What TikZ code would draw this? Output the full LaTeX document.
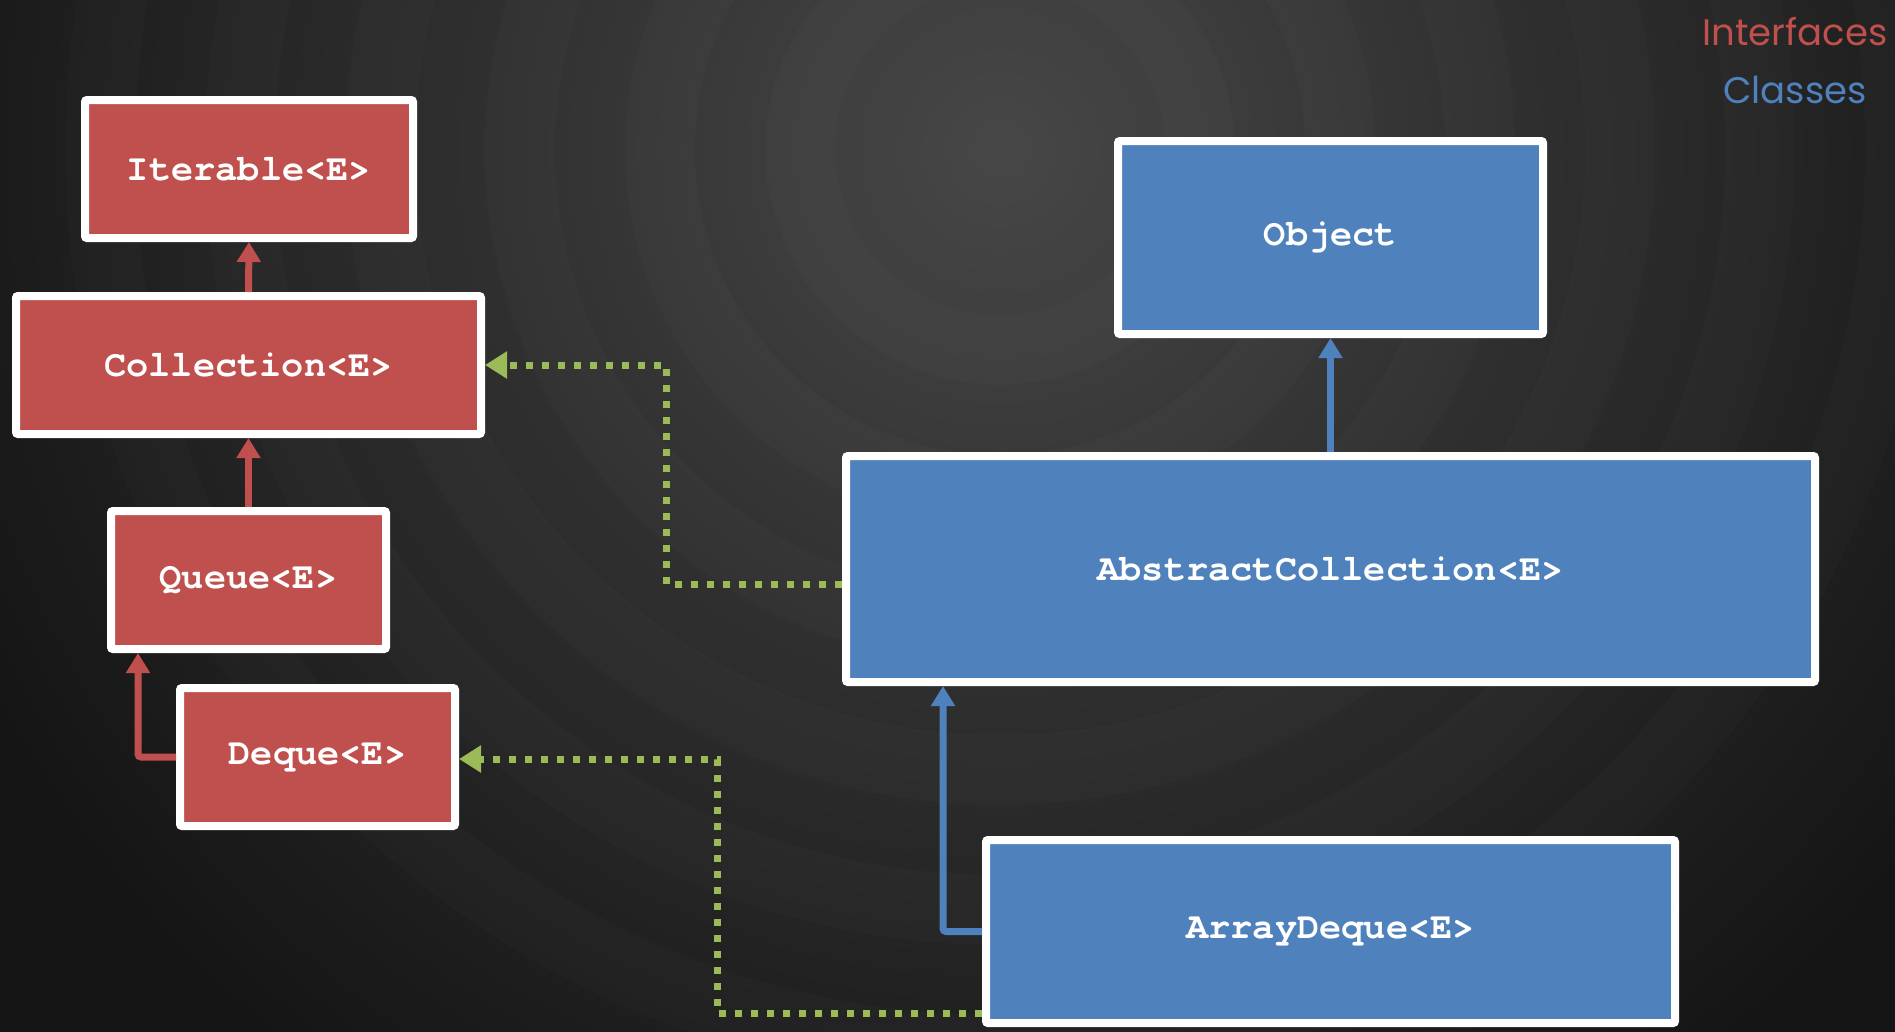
\documentclass[tikz,border=0pt]{standalone}
\usepackage{fontspec}
\setmainfont{Liberation Sans}
\newfontfamily\boxfont{TeX Gyre Cursor}
\newfontfamily\legendfont{Poppins}
\usetikzlibrary{arrows.meta}
\definecolor{ifred}{HTML}{C0504D}
\definecolor{clblue}{HTML}{4F81BD}
\definecolor{relgreen}{HTML}{9BBB59}
\definecolor{bgin}{HTML}{474747}
\definecolor{bgmid}{HTML}{2E2E2E}
\definecolor{bgout}{HTML}{151515}
\pgfdeclareradialshading{bgglow}{\pgfpoint{0bp}{0bp}}{color(0bp)=(bgin); color(12bp)=(bgmid); color(25bp)=(bgout); color(50bp)=(bgout)}
\tikzset{
  umlbox/.style={draw=white, line width=8pt, rounded corners=2pt, outer sep=4pt,
    text=white, font=\boxfont\bfseries\fontsize{37}{44}\selectfont, inner sep=0pt},
  ifbox/.style={umlbox, fill=ifred},
  clbox/.style={umlbox, fill=clblue},
  redarrow/.style={draw=ifred, line width=7pt, rounded corners=3pt,
    -{Triangle[width=23pt,length=20pt]}},
  bluearrow/.style={draw=clblue, line width=7pt, rounded corners=3pt,
    -{Triangle[width=23pt,length=20pt]}},
  greenarrow/.style={draw=relgreen, line width=7pt, dash pattern=on 7pt off 9pt,
    -{Triangle[width=26pt,length=22pt,fill=relgreen]}},
  legend/.style={font=\legendfont\fontsize{37}{44}\selectfont, inner sep=0pt, anchor=base},
  bgring/.style={draw=white, draw opacity=0.016, line width=70pt}
}
\begin{document}
\begin{tikzpicture}[x=1pt,y=-1pt]
\useasboundingbox (0,0) rectangle (1895,1031);
\fill[bgout] (-10,-10) rectangle (1905,1041);
\begin{scope}
\clip (-10,-10) rectangle (1905,1041);
\shade[shading=bgglow] (1000,150) circle (1150);
\foreach \r in {200,340,480,620,760,900}
  \draw[bgring] (1000,150) circle (\r);
\end{scope}

\node[legend, text=ifred] (lgi) at (1795,45) {Interfaces};
\node[legend, text=clblue] (lgc) at (1795,103) {Classes};

\node[ifbox, minimum width=328pt, minimum height=138pt] (iter) at (249,169) {Iterable<E>};
\node[ifbox, minimum width=465pt, minimum height=138pt] (coll) at (248.5,365) {Collection<E>};
\node[ifbox, minimum width=275pt, minimum height=138pt] (queue) at (248.5,580) {Queue<E>};
\node[ifbox, minimum width=275pt, minimum height=138pt] (deque) at (317.5,757) {Deque<E>};

\node[clbox, minimum width=425pt, minimum height=193pt] (obj) at (1330.5,237.5) {Object};
\node[clbox, minimum width=969pt, minimum height=226pt] (ac) at (1330.5,569) {AbstractCollection<E>};
\node[clbox, minimum width=689pt, minimum height=183pt] (ad) at (1330.5,931.5) {ArrayDeque<E>};

\coordinate (g1) at (666,365);
\coordinate (g2) at (717,759);

\draw[redarrow] (coll.north) -- (iter.south);
\draw[redarrow] (queue.north) -- (coll.south);
\draw[redarrow] (deque.west) -| ([xshift=31pt]queue.south west);

\draw[bluearrow] (ac.north) -- (obj.south);
\draw[bluearrow] (ad.west) -| ([xshift=101pt]ac.south west);

\draw[greenarrow] ([yshift=-15pt]ac.west) -| (g1) -- (coll.east);
\draw[greenarrow] ([yshift=-81.5pt]ad.west) -| (g2) -- ([yshift=-2pt]deque.east);
\end{tikzpicture}
\end{document}
